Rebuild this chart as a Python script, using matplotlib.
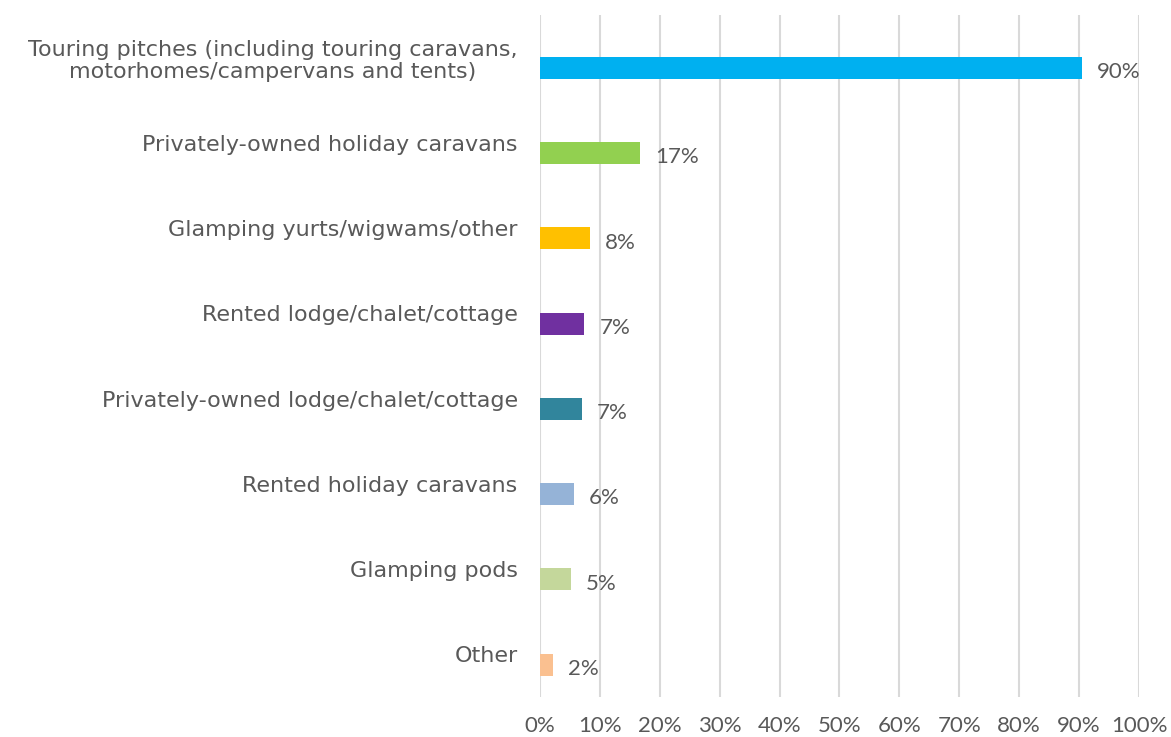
import matplotlib.pyplot as plt

# Accommodation types and share of sites offering each (%)
categories = [
    "Touring pitches (including touring caravans,\nmotorhomes/campervans and tents)",
    "Privately-owned holiday caravans",
    "Glamping yurts/wigwams/other",
    "Rented lodge/chalet/cottage",
    "Privately-owned lodge/chalet/cottage",
    "Rented holiday caravans",
    "Glamping pods",
    "Other",
]
values = [90.4, 16.7, 8.3, 7.4, 7.0, 5.7, 5.2, 2.2]
colors = ["#00B0F0", "#92D050", "#FFC000", "#7030A0",
          "#31859C", "#95B3D7", "#C4D79B", "#FAC090"]
x_ticks = list(range(0, 101, 10))

text_color = "#595959"
plt.rcParams["font.family"] = ["Lato", "DejaVu Sans"]

fig = plt.figure(figsize=(11.71, 7.37), dpi=100)
ax = fig.add_axes([0.4611, 0.0543, 0.5116, 0.9253])

pos = list(range(len(categories)))
bar_pos = [p + 0.12 for p in pos]
ax.barh(bar_pos, values, height=0.26, color=colors, zorder=3)

for y, v in zip(bar_pos, values):
    ax.text(v + 2.5, y + 0.05, f"{v:.0f}%", va="center", ha="left",
            fontsize=16, color=text_color)

ax.set_xlim(0, 100)
ax.set_ylim(len(categories) - 0.5, -0.5)
ax.set_xticks(x_ticks)
ax.set_xticklabels([f"{t}%" for t in x_ticks])
ax.set_yticks(pos)
ax.set_yticklabels(categories, ha="right", multialignment="center",
                   family="DejaVu Sans", fontsize=16, linespacing=1.15)

ax.tick_params(axis="x", length=0, pad=14, labelsize=16, labelcolor=text_color)
ax.tick_params(axis="y", length=0, pad=16, labelcolor=text_color)
ax.grid(axis="x", color="#D9D9D9", linewidth=1.5, zorder=0)
for spine in ax.spines.values():
    spine.set_visible(False)

fig.savefig("out.png", dpi=100)
